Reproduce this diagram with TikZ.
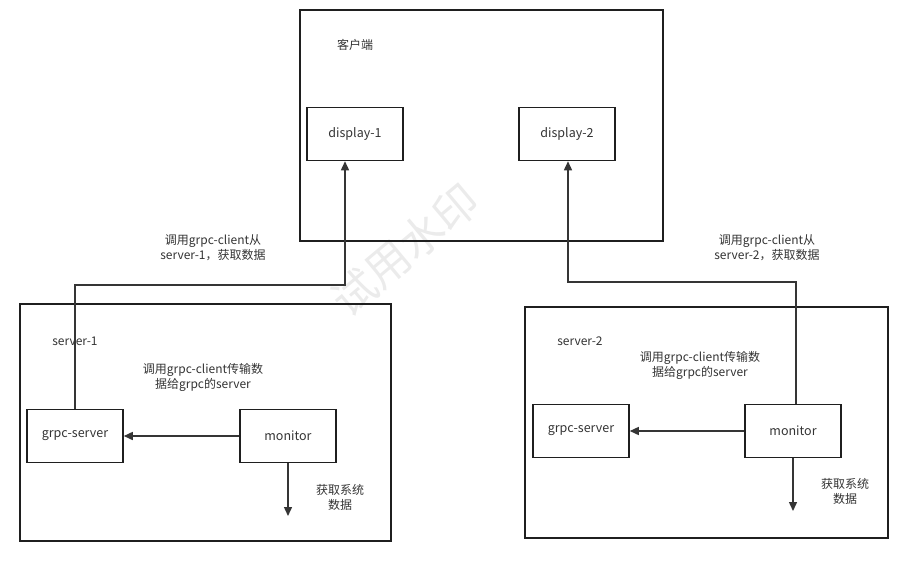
\documentclass[tikz,border=0pt]{standalone}
\usepackage{fontspec}
\setmainfont{Noto Sans CJK SC}
\usetikzlibrary{arrows.meta}
\definecolor{ink}{HTML}{1F1F1F}
\definecolor{txt}{HTML}{333333}
\tikzset{
  frame/.style={draw=ink, line width=1.5pt},
  unit/.style={draw=ink, line width=1.5pt, minimum width=96pt, minimum height=53pt,
    inner sep=0pt, text=txt, font=\fontsize{12.5}{14}\selectfont},
  tag/.style={text=txt, font=\fontsize{12}{15}\selectfont, align=center, inner sep=0pt},
  link/.style={draw=ink!90, line width=1.4pt, -{Triangle[length=9pt,width=8pt]}},
}
\begin{document}
\begin{tikzpicture}[x=1pt, y=-1pt]
  \useasboundingbox (0,0) rectangle (908,563);
  % watermark
  \node[text=black!8, font=\fontsize{44}{46}\selectfont, rotate=40] (wm) at (405,250) {试用水印};
  % client side
  \draw[frame] (300,10) rectangle (663,241);
  \node[tag] (client) at (355,45) {客户端};
  \node[unit] (d1) at (355,134) {display-1};
  \node[unit] (d2) at (567,134) {display-2};
  % server-1
  \draw[frame] (20,304) rectangle (391,541);
  \node[tag] (s1) at (75,341) {server-1};
  \node[unit] (g1) at (75,436) {grpc-server};
  \node[unit] (m1) at (288,436) {monitor};
  \node[tag] (n1) at (203,377) {调用grpc-client传输数\\据给grpc的server};
  \node[tag] (q1) at (340,497) {获取系统\\数据};
  \node[tag] (r1) at (213,248) {调用grpc-client从\\server-1，获取数据};
  \coordinate (o1) at (288,516);
  \coordinate (k1) at (345,285);
  % server-2
  \draw[frame] (525,307) rectangle (888,538);
  \node[tag] (s2) at (580,341) {server-2};
  \node[unit] (g2) at (581,431) {grpc-server};
  \node[unit] (m2) at (793,431) {monitor};
  \node[tag] (n2) at (700,365) {调用grpc-client传输数\\据给grpc的server};
  \node[tag] (q2) at (845,491) {获取系统\\数据};
  \node[tag] (r2) at (767,248) {调用grpc-client从\\server-2，获取数据};
  \coordinate (o2) at (793,511);
  \coordinate (k2) at (568,282);
  % connectors
  \draw[link] (m1) -- (g1);
  \draw[link] (m1.south) -- (o1);
  \draw[link] (g1.north) |- (k1) -- (k1 |- d1.south);
  \draw[link] (m2) -- (g2);
  \draw[link] (m2.south) -- (o2);
  \draw[link] ([xshift=3pt]m2.north) |- (k2) -- (k2 |- d2.south);
\end{tikzpicture}
\end{document}
